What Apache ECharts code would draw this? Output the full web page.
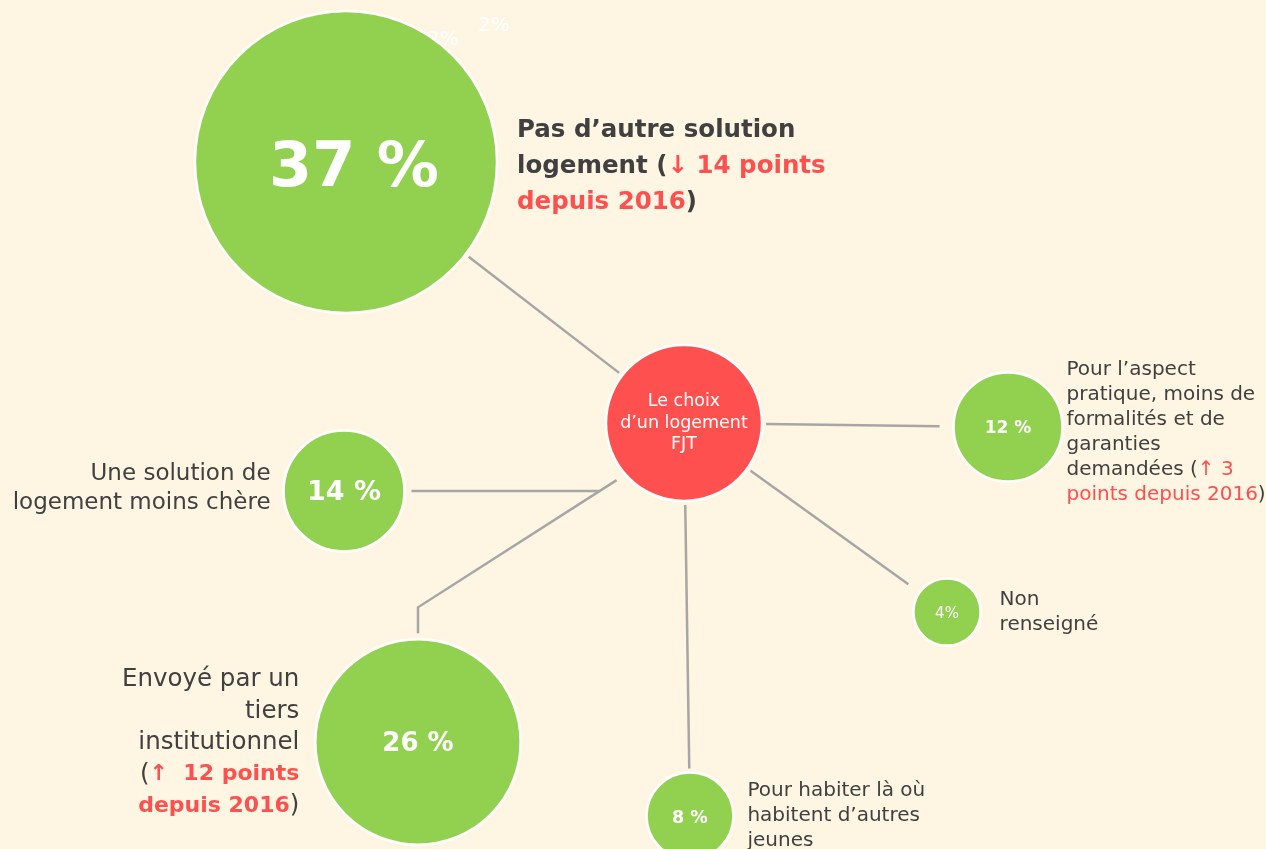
<!DOCTYPE html>
<html>
<head>
<meta charset="utf-8">
<script src="https://cdn.jsdelivr.net/npm/echarts@6/dist/echarts.min.js"></script>
<style>
  html, body { margin: 0; padding: 0; background: #FFF5E3; }
  #chart { width: 1266px; height: 849px; }
</style>
</head>
<body>
<div id="chart"></div>
<script>
// centre du schéma
const hubText = 'Le choix\nd’un logement\nFJT'
const hubPos = [684, 423]

// raisons du choix (part des résidents, en %)
const reasons = [
  'Pas d’autre solution logement',
  'Une solution de logement moins chère',
  'Envoyé par un tiers institutionnel',
  'Pour habiter là où habitent d’autres jeunes',
  'Non renseigné',
  'Pour l’aspect pratique, moins de formalités et de garanties demandées'
]
const shares = [37, 14, 26, 8, 4, 12]
const shareLabels = ['37 %', '14 %', '26 %', '8 %', '4%', '12 %']
const posX = [346, 344, 418, 690, 947, 1008]
const posY = [162, 491, 742, 816, 612, 427]

// textes des bulles (mise en forme riche)
const descTexts = [
  '{h|Pas d’autre solution}\n{h|logement (}{hr|↓ 14 points}\n{hr|depuis 2016}{h|)}',
  '{m|Une solution de}\n{m|logement moins chère}',
  '{t|Envoyé par un}\n{t|tiers}\n{t|institutionnel}\n{t|(}{tr|↑  12 points}\n{tr|depuis 2016}{t|)}',
  '{s|Pour habiter là où}\n{s|habitent d’autres}\n{s|jeunes}',
  '{s|Non}\n{s|renseigné}',
  '{s|Pour l’aspect}\n{s|pratique, moins de}\n{s|formalités et de}\n{s|garanties}\n{s|demandées (}{sr|↑ 3}\n{sr|points depuis 2016}{s|)}'
]

// mise en page
const FONT = 'DejaVu Sans'
const GREEN = '#92D050'
const RED = '#FF5050'
const DARK = '#404040'
const hubR = 78
const bubbleR = v => 25 + 2 * v + 0.038 * v * v
const innerFont = [62, 27, 26, 17.5, 15, 17]
const descSide = ['right', 'left', 'left', 'right', 'right', 'right']
const descGap = [20, 13, 16, 14, 19, 4]
const descShift = [5, -2, 1, 0, 0, 5]
const edgeGap = [4, 7, 6, 4, 14, 14]

function along(p, q, d) {
  const dx = q[0] - p[0], dy = q[1] - p[1]
  const len = Math.hypot(dx, dy)
  return [p[0] + dx * d / len, p[1] + dy * d / len]
}

// construction des liens
const nodes = shares.map((v, i) => [posX[i], posY[i]])
const edges = []
;[0, 3, 4, 5].forEach(i => {
  edges.push({ coords: [along(hubPos, nodes[i], hubR + 4), along(nodes[i], hubPos, bubbleR(shares[i]) + edgeGap[i])] })
})
// lien coudé vers « tiers institutionnel », parti du bas du cercle central
const r26 = bubbleR(shares[2])
const elbow = [posX[2], posY[2] - r26 - 32]
const elbowFrom = [hubPos[0], hubPos[1] + 14]
const elbowStart = along(elbowFrom, elbow, hubR + 2)
edges.push({ coords: [elbowStart, elbow, [posX[2], posY[2] - r26 - edgeGap[2]]] })
// branche vers « moins chère », raccordée au segment coudé
const t = (posY[1] - elbowStart[1]) / (elbow[1] - elbowStart[1])
const branchX = elbowStart[0] + t * (elbow[0] - elbowStart[0])
edges.push({ coords: [[posX[1] + bubbleR(shares[1]) + edgeGap[1], posY[1]], [branchX, posY[1]]] })

const chart = echarts.init(document.getElementById('chart'))

const option = {
  backgroundColor: '#FFF5E3',
  animation: false,
  grid: { left: 0, right: 0, top: 0, bottom: 0 },
  xAxis: { type: 'value', min: 0, max: 1266, show: false },
  yAxis: { type: 'value', min: 0, max: 849, inverse: true, show: false },
  graphic: [
    { type: 'text', x: 478, y: 16, z: 0, style: { text: '2%', fill: '#ffffff', font: '20px "DejaVu Sans"' } },
    { type: 'text', x: 427, y: 30, z: 0, style: { text: '2%', fill: '#ffffff', font: '20px "DejaVu Sans"' } }
  ],
  series: [
    {
      type: 'lines',
      coordinateSystem: 'cartesian2d',
      polyline: true,
      silent: true,
      z: 1,
      lineStyle: { color: '#A6A6A6', width: 2.5, opacity: 1 },
      data: edges
    },
    {
      name: 'hub',
      type: 'scatter',
      z: 3,
      symbolSize: hubR * 2,
      itemStyle: { color: RED, borderColor: '#ffffff', borderWidth: 2.5, opacity: 1 },
      label: {
        show: true,
        position: 'inside',
        formatter: hubText,
        color: '#ffffff',
        fontFamily: FONT,
        fontSize: 17.5,
        lineHeight: 21.5
      },
      data: [hubPos]
    },
    {
      name: 'parts',
      type: 'scatter',
      z: 3,
      symbolSize: val => bubbleR(val[2]) * 2,
      itemStyle: { color: GREEN, borderColor: '#ffffff', borderWidth: 2.5, opacity: 1 },
      label: {
        show: true,
        position: 'inside',
        color: '#ffffff',
        fontFamily: FONT
      },
      data: shares.map((v, i) => ({
        name: reasons[i],
        value: [posX[i], posY[i], v],
        label: {
          formatter: shareLabels[i],
          fontSize: innerFont[i],
          fontWeight: i === 4 ? 'normal' : 'bold',
          offset: i === 0 ? [8, 8] : [0, 2]
        }
      }))
    },
    {
      name: 'raisons',
      type: 'scatter',
      z: 4,
      silent: true,
      symbolSize: val => bubbleR(val[2]) * 2,
      itemStyle: { color: 'rgba(0,0,0,0)', opacity: 1 },
      label: {
        show: true,
        opacity: 1,
        fontFamily: FONT,
        rich: {
          h: { fontFamily: FONT, fontSize: 24.5, fontWeight: 'bold', color: DARK, lineHeight: 36 },
          hr: { fontFamily: FONT, fontSize: 24.5, fontWeight: 'bold', color: RED, lineHeight: 36 },
          m: { fontFamily: FONT, fontSize: 23, color: DARK, lineHeight: 29 },
          t: { fontFamily: FONT, fontSize: 24.5, color: DARK, lineHeight: 31.5 },
          tr: { fontFamily: FONT, fontSize: 22, fontWeight: 'bold', color: RED, lineHeight: 31.5 },
          s: { fontFamily: FONT, fontSize: 20, color: DARK, lineHeight: 25 },
          sr: { fontFamily: FONT, fontSize: 20, color: RED, lineHeight: 25 }
        }
      },
      data: shares.map((v, i) => ({
        value: [posX[i], posY[i], v],
        label: {
          position: descSide[i],
          distance: descGap[i],
          offset: [0, descShift[i]],
          formatter: descTexts[i]
        }
      }))
    }
  ]
}

chart.setOption(option)
window.addEventListener('resize', () => chart.resize())
</script>
</body>
</html>
